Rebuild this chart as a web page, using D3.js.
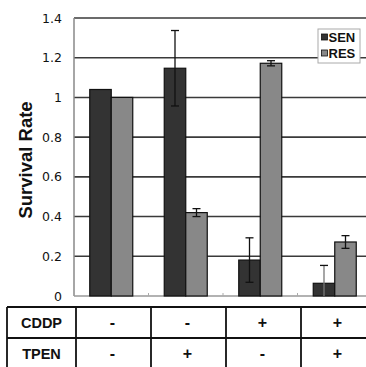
<!DOCTYPE html>
<html><head><meta charset="utf-8">
<script src="https://cdn.jsdelivr.net/npm/d3@7"></script>
<style>html,body{margin:0;padding:0;background:#fff;}svg{display:block;}</style>
</head><body>
<svg id="c" width="366" height="367"></svg>
<script>
const groups = ["G1","G2","G3","G4"];
const series = ["SEN","RES"];
const senValues = [1.04, 1.147, 0.181, 0.064];
const senErrors = [0, 0.19, 0.112, 0.09];
const resValues = [1.0, 0.42, 1.172, 0.272];
const resErrors = [0, 0.02, 0.013, 0.032];
const yTicks = [0, 0.2, 0.4, 0.6, 0.8, 1, 1.2, 1.4];
const rowLabels = ["CDDP", "TPEN"];
const cddpSigns = ["-", "-", "+", "+"];
const tpenSigns = ["-", "+", "-", "+"];
const colors = {SEN: "#333333", RES: "#888888"};

(function(){
const svg = d3.select("#c");
const font = "Arial, 'Liberation Sans', sans-serif";
const tickFont = "'DejaVu Sans', Verdana, sans-serif";
const pLeft = 74, pRight = 372, pTop = 18, pBottom = 296;

const y = d3.scaleLinear().domain([0, 1.4]).range([pBottom, pTop]);
const x0 = d3.scaleBand().domain(groups).range([pLeft, pRight]);
const x1 = d3.scaleBand().domain(series).range([0, 43]);

// gridlines
svg.append("g").selectAll("line").data(yTicks.filter(d => d > 0)).join("line")
  .attr("x1", pLeft).attr("x2", 366).attr("y1", d => y(d)).attr("y2", d => y(d))
  .attr("stroke", "#3a3a3a").attr("stroke-width", 1.6);

// y axis labels
const yAxis = d3.axisLeft(y).tickValues(yTicks).tickFormat(d3.format("~g")).tickSize(0).tickPadding(12);
const ya = svg.append("g").attr("transform", `translate(${pLeft},0)`).call(yAxis);
ya.select(".domain").remove();
ya.selectAll("text").attr("font-family", tickFont).attr("font-size", 12.5).attr("fill", "#111");

// axis lines
svg.append("line").attr("x1", pLeft).attr("x2", pLeft).attr("y1", pTop).attr("y2", pBottom)
  .attr("stroke", "#888").attr("stroke-width", 1.5);
svg.append("line").attr("x1", pLeft).attr("x2", 366).attr("y1", pBottom).attr("y2", pBottom)
  .attr("stroke", "#999").attr("stroke-width", 1.5);
// category ticks
svg.append("g").selectAll("line").data(groups.slice(1)).join("line")
  .attr("x1", d => x0(d)).attr("x2", d => x0(d)).attr("y1", pBottom - 3).attr("y2", pBottom)
  .attr("stroke", "#aaa").attr("stroke-width", 1);

// bars
const data = groups.map((g, i) => ({g, vals: [
  {s: "SEN", v: senValues[i], e: senErrors[i]},
  {s: "RES", v: resValues[i], e: resErrors[i]}]}));
const off = (x0.bandwidth() - 43) / 2;
const gg = svg.append("g").selectAll("g").data(data).join("g")
  .attr("transform", d => `translate(${x0(d.g) + off},0)`);
gg.selectAll("rect").data(d => d.vals).join("rect")
  .attr("x", d => x1(d.s)).attr("width", x1.bandwidth())
  .attr("y", d => y(d.v)).attr("height", d => y(0) - y(d.v))
  .attr("fill", d => colors[d.s]).attr("stroke", "#111").attr("stroke-width", 1.2);
// error bars
const eb = gg.selectAll("g.eb").data(d => d.vals.filter(v => v.e > 0)).join("g").attr("class", "eb");
eb.append("line")
  .attr("x1", d => x1(d.s) + x1.bandwidth()/2).attr("x2", d => x1(d.s) + x1.bandwidth()/2)
  .attr("y1", d => y(d.v + d.e)).attr("y2", d => y(Math.max(0, d.v - d.e)))
  .attr("stroke", d => (d.s === "SEN" && d.v - d.e < 0) ? "#777" : "#111").attr("stroke-width", 1.3);
eb.append("line").attr("class", "cap")
  .attr("x1", d => x1(d.s) + x1.bandwidth()/2 - 4).attr("x2", d => x1(d.s) + x1.bandwidth()/2 + 4)
  .attr("y1", d => y(d.v + d.e)).attr("y2", d => y(d.v + d.e))
  .attr("stroke", "#111").attr("stroke-width", 1.3);
eb.filter(d => d.v - d.e > 0).append("line")
  .attr("x1", d => x1(d.s) + x1.bandwidth()/2 - 4).attr("x2", d => x1(d.s) + x1.bandwidth()/2 + 4)
  .attr("y1", d => y(d.v - d.e)).attr("y2", d => y(d.v - d.e))
  .attr("stroke", "#111").attr("stroke-width", 1.3);

// y title
svg.append("text").attr("transform", "translate(32,160) rotate(-90)")
  .attr("text-anchor", "middle").attr("font-family", font).attr("font-weight", "bold")
  .attr("font-size", 18.5).attr("fill", "#111").text("Survival Rate");

// legend
const lg = svg.append("g");
lg.append("rect").attr("x", 318).attr("y", 29).attr("width", 42).attr("height", 34)
  .attr("fill", "#fff").attr("stroke", "#aaa").attr("stroke-width", 1);
series.forEach((s, i) => {
  lg.append("rect").attr("x", 321.5).attr("y", 34 + i*16).attr("width", 6).attr("height", 6)
    .attr("fill", colors[s]).attr("stroke", "#111").attr("stroke-width", 0.8);
  lg.append("text").attr("x", 328.5).attr("y", 41.5 + i*16).attr("font-family", font)
    .attr("font-weight", "bold").attr("font-size", 13).attr("fill", "#111").text(s);
});

// table
const tTop = 307, rowH = 31, tLeft = 7, tCol0 = 76;
const tx = d3.scaleBand().domain(groups).range([tCol0, 376]);
const tb = svg.append("g").attr("stroke", "#111").attr("stroke-width", 1.8);
[0, 1, 2].forEach(r => tb.append("line").attr("x1", tLeft).attr("x2", 366)
  .attr("y1", tTop + r*rowH).attr("y2", tTop + r*rowH));
[tLeft, ...groups.map(g => tx(g))].forEach(xv => tb.append("line")
  .attr("x1", xv).attr("x2", xv).attr("y1", tTop).attr("y2", tTop + 2*rowH));
const rows = [cddpSigns, tpenSigns];
rowLabels.forEach((lab, r) => {
  svg.append("text").attr("x", (tLeft + tCol0)/2).attr("y", tTop + r*rowH + rowH/2 + 5)
    .attr("text-anchor", "middle").attr("font-family", font).attr("font-weight", "bold")
    .attr("font-size", 14.5).attr("fill", "#111").text(lab);
  rows[r].forEach((sgn, i) => {
    svg.append("text").attr("x", tx(groups[i]) + tx.bandwidth()/2 - 1)
      .attr("y", tTop + r*rowH + rowH/2 + 5)
      .attr("text-anchor", "middle").attr("font-family", font).attr("font-weight", "bold")
      .attr("font-size", 16).attr("fill", "#111").text(sgn);
  });
});
})();
</script>
</body></html>
